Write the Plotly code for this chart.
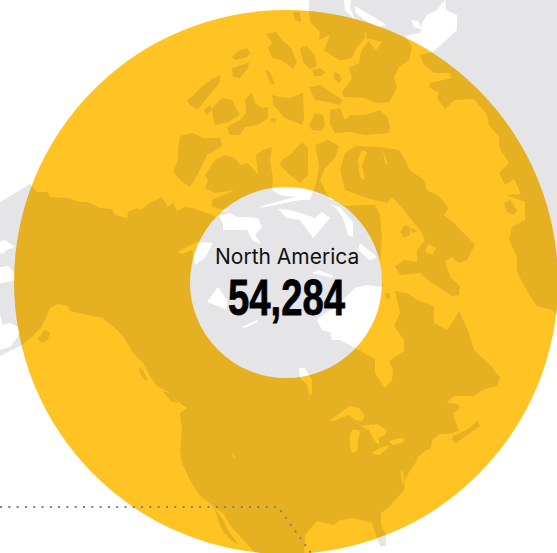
import plotly.graph_objects as go

# ---- Chart content -------------------------------------------------------
REGION_NAME = "North America"
REGION_TOTAL = "54,284"

# ---- Map outlines (x, y on a 557 x 553 scale) ----------------------------
GREENLAND = [(445,-5),(445,0),(446,10),(457,15),(457,30),(433,52),(420,55),(424,65),(434,73),(450,73),(452,78),
             (430,83),(429,87),(439,93),(437,98),(445,109),(454,100),(474,99),(487,115),(489,125),(499,137),
             (499,147),(509,163),(499,173),(505,185),(514,179),(521,194),(507,195),(525,202),(525,220),(512,227),
             (509,240),(517,257),(517,272),(520,278),(530,296),(537,306),(552,310),(560,318),(580,330),(580,-5)]
DISKO = [(504,203),(510,200),(517,210),(514,215),(507,212)]
ELLESMERE = [(352,-5),(445,-5),(445,0),(437,10),(427,15),(422,23),(420,33),(405,36),(412,47),(409,60),(399,67),
             (394,77),(397,88),(389,102),(377,103),(364,98),(344,97),(342,92),(352,78),(349,68),(359,63),(361,52),
             (368,42),(366,33),(356,22),(350,8)]
AXEL = [(309,-5),(343,-5),(345,10),(355,20),(364,27),(365,38),(355,50),(352,58),(344,60),(339,60),(324,50),
        (330,35),(319,40),(320,32),(310,22),(309,12)]
ISLANDS = [
    [(232,57),(238,51),(247,48),(250,53),(247,57),(235,60)],
    [(232,68),(242,65),(249,62),(248,68),(240,78),(233,77)],
    [(266,34),(276,32),(282,40),(291,48),(297,62),(293,69),(287,64),(280,60),(272,58),(268,48),(272,42)],
    [(293,12),(300,12),(301,22),(295,20)],
    [(300,48),(307,46),(315,56),(317,66),(310,69),(303,62)],
    [(312,70),(320,68),(325,72),(322,76),(314,76)],
    [(334,72),(339,74),(342,80),(338,83),(334,78)],
    [(265,70),(270,72),(275,85),(270,83)],
    [(187,100),(193,96),(200,88),(212,79),(220,75),(220,82),(212,92),(205,100),(197,110),(190,105)],
    [(204,110),(210,105),(212,110),(206,115)],
    [(212,108),(222,98),(232,100),(240,115),(228,122),(215,125),(213,118)],
    [(227,127),(240,120),(246,113),(245,100),(252,92),(255,103),(262,108),(268,107),(268,118),(258,125),(245,127),(240,135),(230,135)],
    [(272,95),(280,97),(290,98),(303,93),(304,120),(302,125),(285,118),(273,105)],
    [(271,118),(276,118),(275,123),(271,122)],
    [(309,87),(320,85),(335,95),(343,100),(340,105),(328,102),(315,100)],
    [(309,125),(315,113),(323,115),(325,125),(322,131),(312,130)],
    [(330,110),(340,108),(345,120),(350,115),(365,115),(380,110),(388,118),(390,128),(388,133),(365,135),(350,132),(335,133),(330,125)],
    [(180,136),(193,133),(203,138),(220,138),(222,146),(207,155),(200,170),(195,178),(190,187),(180,180),(173,172),(178,160),(178,150)],
    [(282,160),(290,155),(302,142),(308,148),(308,175),(300,183),(290,175),(280,165)],
    [(400,232),(405,225),(410,227),(410,235),(404,238)],
    [(411,228),(418,231),(412,233)],
    [(385,293),(390,293),(390,300),(386,298)],
    [(452,441),(456,443),(470,433),(480,426),(477,420),(470,428),(458,434),(453,436)],
    [(214,507),(224,521),(228,530),(238,544),(232,541),(224,533),(219,523)],
    [(38,339),(44,330),(50,332),(48,340),(42,343)],
    [(139,367),(143,370),(148,381),(143,378),(140,373)],
    [(162,391),(170,393),(178,403),(172,402)],
    [(315,145),(328,140),(339,146),(335,158),(325,168),(320,180),(325,190),(330,200),(310,200),(317,180),(319,165)],
]
VICTORIA = [(205,175),(215,160),(225,155),(235,158),(240,165),(248,163),(258,175),(256,155),(263,150),(272,147),
            (270,160),(273,178),(272,190),(280,195),(295,197),(265,205),(250,211),(230,211),(212,207),(212,200),
            (235,190),(215,193),(205,188),(208,180)]
BAFFIN = [(340,170),(345,153),(355,146),(380,147),(399,150),(405,160),(410,170),(424,180),(427,190),(440,197),
          (449,208),(444,215),(454,223),(475,245),(467,260),(459,263),(452,257),(445,261),(450,277),(460,286),
          (459,295),(452,296),(440,288),(429,281),(420,273),(400,275),(395,266),(404,260),(417,262),(417,250),
          (425,240),(420,230),(410,218),(402,208),(392,197),(387,203),(374,200),(364,197),(345,190)]
MAINLAND = [(-10,200),(0,202),(17,192),(30,184),(37,192),(48,192),(50,197),(68,198),(80,202),(88,202),(100,208),
            (112,209),(115,215),(127,218),(128,212),(137,208),(140,210),(150,203),(162,197),(168,207),(173,202),
            (177,211),(185,207),(193,208),(207,213),(217,217),(219,212),(265,207),(300,200),(335,200),(345,206),
            (361,205),(375,205),(380,215),(381,228),(382,240),(380,262),(383,287),(367,285),(355,288),(345,298),
            (335,308),(322,315),(317,320),(322,330),(330,332),(332,340),(340,340),(355,348),(375,359),(375,373),
            (385,388),(392,380),(393,370),(389,361),(404,351),(404,340),(394,326),(400,313),(395,291),(407,293),
            (417,300),(434,306),(434,323),(447,330),(454,320),(459,311),(469,333),(474,350),(490,365),(500,378),
            (497,386),(482,390),(474,396),(454,396),(444,405),(432,416),(430,418),(437,408),(447,403),(458,404),
            (460,408),(453,414),(457,424),(459,431),(448,434),(440,434),(432,440),(431,448),(425,451),(418,457),
            (415,464),(410,470),(405,480),(404,490),(397,498),(388,508),(381,513),(381,525),(386,535),(386,546),
            (380,546),(375,533),(372,523),(364,521),(354,518),(340,520),(334,525),(317,521),(305,535),(304,560),
            (262,560),(232,528),(223,513),(213,506),(200,496),(190,480),(182,463),(180,450),(182,430),(180,413),
            (187,408),(177,401),(170,393),(157,386),(150,376),(143,363),(133,353),(123,336),(115,328),(103,318),
            (87,315),(70,311),(68,306),(58,304),(50,308),(45,320),(42,326),(33,336),(22,345),(10,351),(0,356),
            (-10,360),(-10,350),(0,350),(10,347),(17,338),(20,333),(18,327),(10,323),(3,325),(0,315),(-10,315)]
WATER = [
    [(355,6),(377,19),(387,25),(378,27),(366,21),(356,13)],
    [(366,38),(382,42),(376,50)],
    [(411,20),(418,21),(422,30),(414,27)],
    [(362,150),(358,160),(360,178),(365,180),(362,165),(367,152)],
    [(383,150),(385,163),(395,170),(388,165)],
    [(428,244),(436,248),(432,255),(425,252)],
    [(-5,268),(8,266),(14,272),(15,280),(8,282),(-5,284)],
    [(-5,243),(5,240),(15,247),(6,250),(3,254),(-5,251)],
    [(219,216),(230,213),(237,217),(245,217),(258,218),(262,227),(255,235),(261,244),(253,241),(247,230),(223,230),(223,224)],
    [(278,209),(290,210),(300,213),(315,218),(322,212),(330,218),(322,228),(313,238),(300,220),(287,218)],
    [(328,204),(335,207),(343,218),(348,235),(353,237),(353,222),(340,207)],
    [(360,243),(377,257),(370,260),(358,250)],
    [(312,273),(333,278),(332,275),(318,270)],
    [(177,252),(197,242),(213,243),(205,258),(195,265),(192,250),(182,254)],
    [(207,302),(218,287),(227,300),(227,310),(215,305)],
    [(242,327),(257,320),(258,322),(245,328)],
    [(299,368),(305,368),(312,380),(312,394),(309,395),(307,385),(300,378)],
    [(330,420),(340,413),(349,406),(359,408),(365,416),(362,421),(355,420),(349,415),(340,418),(334,421)],
    [(350,436),(352,430),(359,430),(360,433),(358,440),(357,451),(352,453),(350,445)],
    [(360,426),(377,424),(387,430),(385,435),(379,438),(379,445),(375,441),(369,430)],
    [(371,453),(380,448),(390,445),(388,448),(379,455)],
    [(389,441),(400,438),(405,439),(402,443),(392,445)],
    [(232,453),(236,458),(235,459),(232,455)],
    [(403,470),(404,483),(402,482),(401,472)],
]
BORDERS = [[(101,209),(101,313)], [(187,405),(317,405),(332,412)]]
LEADER = [(0,507),(278,507),(311,553)]

# ---- Styling -------------------------------------------------------------
WIDTH, HEIGHT = 557, 553
LAND = "rgba(0,0,20,0.1)"
YELLOW = "#FFC423"


def area(p):
    return sum(p[i][0] * p[(i + 1) % len(p)][1] - p[(i + 1) % len(p)][0] * p[i][1] for i in range(len(p)))


def wound(polys, positive):
    """Land and water wind opposite ways, so that water is cut out of the land."""
    xs, ys = [], []
    for p in polys:
        q = p if (area(p) > 0) == positive else p[::-1]
        xs += [c[0] for c in q] + [q[0][0], None]
        ys += [c[1] for c in q] + [q[0][1], None]
    return xs, ys


land_x, land_y = wound([GREENLAND, DISKO, ELLESMERE, AXEL, VICTORIA, BAFFIN, MAINLAND] + ISLANDS, True)
water_x, water_y = wound(WATER, False)

fig = go.Figure()
fig.add_trace(go.Scatter(x=land_x + water_x, y=land_y + water_y, mode="lines", line=dict(width=0),
                         fill="toself", fillcolor=LAND, hoverinfo="skip", showlegend=False))
for b in BORDERS:
    fig.add_trace(go.Scatter(x=[c[0] for c in b], y=[c[1] for c in b], mode="lines",
                             line=dict(color="rgba(255,196,35,0.15)", width=0.8),
                             hoverinfo="skip", showlegend=False))
fig.add_trace(go.Scatter(x=[c[0] for c in LEADER], y=[c[1] for c in LEADER], mode="lines",
                         line=dict(color="#808080", width=2, dash="2px,6.3px"),
                         hoverinfo="skip", showlegend=False))

fig.update_layout(
    width=WIDTH, height=HEIGHT, autosize=False,
    margin=dict(l=0, r=0, t=0, b=0),
    paper_bgcolor="white", plot_bgcolor="white", showlegend=False,
    xaxis=dict(range=[0, WIDTH], visible=False, fixedrange=True),
    yaxis=dict(range=[HEIGHT, 0], visible=False, fixedrange=True),
    shapes=[
        dict(type="circle", layer="below", xref="x", yref="y", x0=14, x1=558, y0=10, y1=554,
             fillcolor=YELLOW, line=dict(width=0)),
        dict(type="circle", layer="below", xref="x", yref="y", x0=190, x1=382, y0=187, y1=378,
             fillcolor="white", line=dict(width=0)),
    ],
    annotations=[
        dict(x=286.5, y=256.5, xref="x", yref="y", text=REGION_NAME, showarrow=False,
             font=dict(family="Inter, Liberation Sans, sans-serif", size=21, color="#111111")),
        dict(x=286.5, y=298, xref="x", yref="y", text=f"<b>{REGION_TOTAL}</b>", showarrow=False,
             font=dict(family="Liberation Sans, sans-serif", size=50, color="#000000")),
    ],
)

# The page has no margin, and the total is squeezed to the condensed cut of the reference.
POST_SCRIPT = """
document.body.style.margin = '0';
document.documentElement.style.overflow = 'hidden';
document.querySelectorAll('.annotation-text').forEach(function (t) {
  if (t.textContent === '%s') {
    t.setAttribute('textLength', '117');
    t.setAttribute('lengthAdjust', 'spacingAndGlyphs');
    t.style.stroke = '#000';
    t.style.strokeWidth = '0.8px';
  }
});
""" % REGION_TOTAL
fig.write_html("out.html", config=dict(displayModeBar=False), post_script=POST_SCRIPT)
